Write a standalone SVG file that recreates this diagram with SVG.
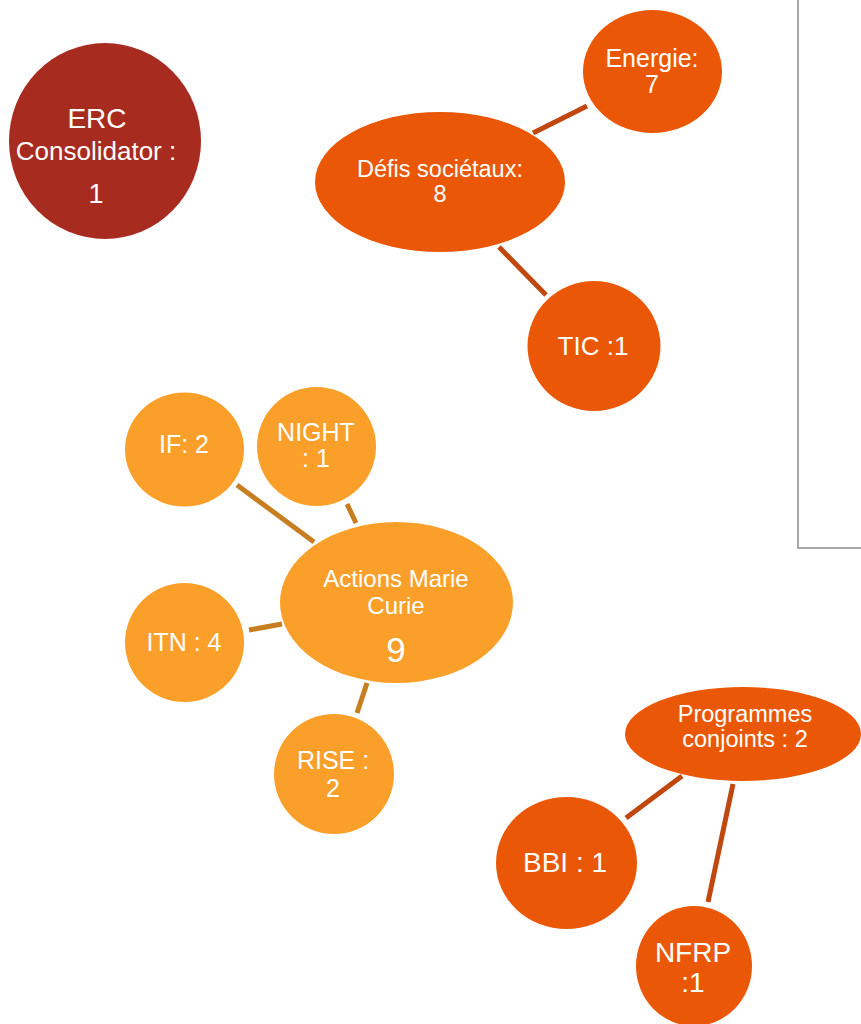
<svg xmlns="http://www.w3.org/2000/svg" width="861" height="1024" viewBox="0 0 861 1024">
<style>
text{font-family:"Liberation Sans",Arial,sans-serif;fill:#ffffff;text-anchor:middle}
.red{fill:#A82B20}
.org{fill:#EA5807}
.amb{fill:#FAA02A}
.c1{stroke:#C0470D;stroke-width:5;fill:none}
.c2{stroke:#C77E20;stroke-width:5;fill:none}
</style>
<rect x="0" y="0" width="861" height="1024" fill="#ffffff"/>
<rect x="798" y="-5" width="80" height="553" fill="none" stroke="#8a8a8a" stroke-width="1.5"/>
<g id="connectors">
<line class="c1" x1="533" y1="133" x2="587" y2="106"/>
<line class="c1" x1="499" y1="247" x2="546" y2="295"/>
<line class="c2" x1="237" y1="485" x2="314" y2="542"/>
<line class="c2" x1="347" y1="504" x2="356" y2="523"/>
<line class="c2" x1="249" y1="630" x2="282" y2="624"/>
<line class="c2" x1="367" y1="683" x2="357" y2="713"/>
<line class="c1" x1="682" y1="776" x2="626" y2="818"/>
<line class="c1" x1="733" y1="784" x2="708" y2="902"/>
</g>
<g id="erc">
<ellipse class="red" cx="105" cy="141" rx="96" ry="98"/>
<text x="97" y="128" font-size="28">ERC</text>
<text x="96" y="160" font-size="26">Consolidator :</text>
<text x="96" y="203" font-size="27">1</text>
</g>
<g id="defis">
<ellipse class="org" cx="440" cy="182" rx="125" ry="70"/>
<text x="440" y="177" font-size="23.5">Défis sociétaux:</text>
<text x="440" y="202" font-size="23.5">8</text>
</g>
<g id="energie">
<ellipse class="org" cx="652.5" cy="71.5" rx="69.5" ry="61.5"/>
<text x="652" y="67" font-size="25">Energie:</text>
<text x="652" y="93" font-size="25">7</text>
</g>
<g id="tic">
<ellipse class="org" cx="594" cy="346" rx="66.5" ry="65"/>
<text x="593" y="355" font-size="26">TIC :1</text>
</g>
<g id="amc">
<ellipse class="amb" cx="396.5" cy="602.5" rx="116.5" ry="80.5"/>
<text x="396" y="587" font-size="24">Actions Marie</text>
<text x="396" y="614" font-size="24">Curie</text>
<text x="396" y="662" font-size="35">9</text>
</g>
<g id="if">
<ellipse class="amb" cx="184.5" cy="449.5" rx="59.5" ry="57"/>
<text x="184" y="453" font-size="25">IF: 2</text>
</g>
<g id="night">
<ellipse class="amb" cx="316.5" cy="446.5" rx="59.5" ry="59.5"/>
<text x="316" y="441" font-size="25">NIGHT</text>
<text x="316" y="467" font-size="25">: 1</text>
</g>
<g id="itn">
<ellipse class="amb" cx="184.5" cy="642.5" rx="59.5" ry="59.5"/>
<text x="184" y="651" font-size="25">ITN : 4</text>
</g>
<g id="rise">
<ellipse class="amb" cx="334" cy="774" rx="60" ry="60"/>
<text x="333" y="769" font-size="25">RISE :</text>
<text x="333" y="797" font-size="25">2</text>
</g>
<g id="programmes">
<ellipse class="org" cx="743" cy="734" rx="118" ry="47"/>
<text x="745" y="722" font-size="23.5">Programmes</text>
<text x="745" y="747" font-size="23.5">conjoints : 2</text>
</g>
<g id="bbi">
<ellipse class="org" cx="566.5" cy="863" rx="70.5" ry="66"/>
<text x="565" y="872" font-size="28">BBI : 1</text>
</g>
<g id="nfrp">
<ellipse class="org" cx="694" cy="966" rx="58" ry="60"/>
<text x="693" y="962" font-size="28">NFRP</text>
<text x="693" y="992" font-size="28">:1</text>
</g>
</svg>
